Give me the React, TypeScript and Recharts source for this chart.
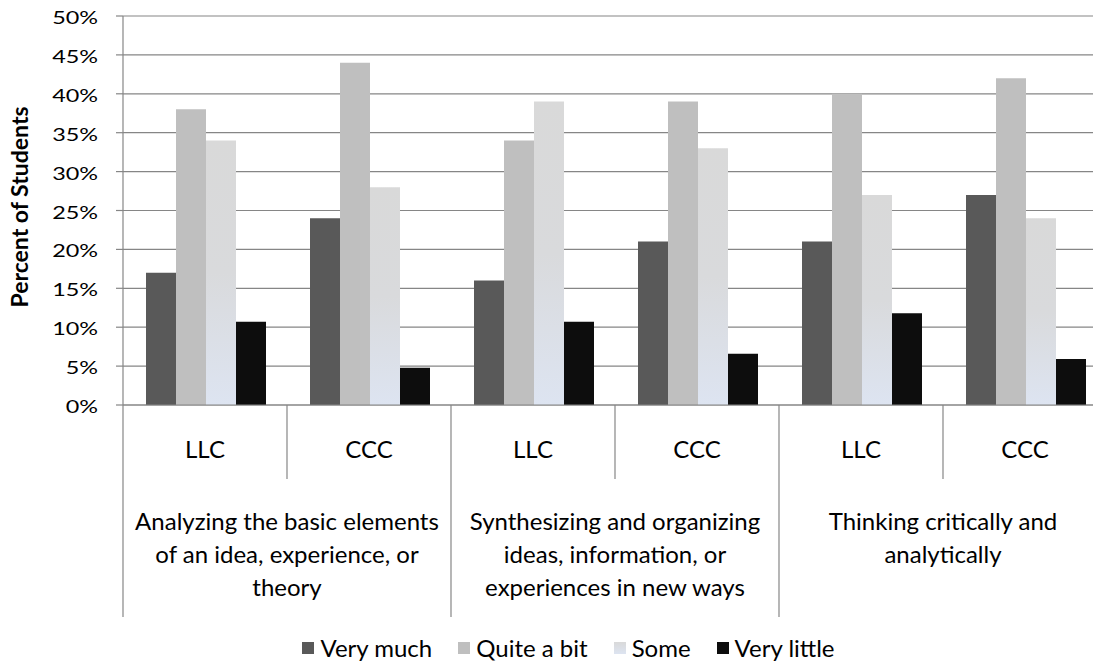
import React from 'react';
import { BarChart, Bar, XAxis, YAxis, CartesianGrid, Legend } from 'recharts';

// ---- data ----
const subLabels = ['LLC', 'CCC', 'LLC', 'CCC', 'LLC', 'CCC'];
const groupLabels = [
  ['Analyzing the basic elements', 'of an idea, experience, or', 'theory'],
  ['Synthesizing and organizing', 'ideas, information, or', 'experiences in new ways'],
  ['Thinking critically and', 'analytically'],
];
const veryMuch = [17, 24, 16, 21, 21, 27];
const quiteABit = [38, 44, 34, 39, 40, 42];
const some = [34, 28, 39, 33, 27, 24];
const veryLittle = [10.7, 4.8, 10.7, 6.6, 11.8, 5.9];
const yTicks = [0, 5, 10, 15, 20, 25, 30, 35, 40, 45, 50];
const seriesNames = ['Very much', 'Quite a bit', 'Some', 'Very little'];
const axisTitle = 'Percent of Students';

const data = subLabels.map((s, i) => ({
  id: String(i),
  sub: s,
  vm: veryMuch[i],
  qb: quiteABit[i],
  so: some[i],
  vl: veryLittle[i],
}));

// ---- layout (page coordinates; wrapper cancels the body margin) ----
const W = 1129;
const H = 665;
const PLOT_LEFT = 123;
const PLOT_TOP = 16;
const PLOT_BOTTOM = 405;
const PLOT_RIGHT = 1107;
const BAND = (PLOT_RIGHT - PLOT_LEFT) / subLabels.length;
const FONT = 'Lato, "Open Sans", sans-serif';
const AXIS = '#868686';

const colors = ['#595959', '#bfbfbf', 'url(#someGrad)', '#0d0d0d'];
const legendColors = ['#595959', '#bfbfbf', 'linear-gradient(#d9d9d9, #dde4f1)', '#0d0d0d'];

const YTick = (props: any) => {
  const { y, payload } = props;
  return (
    <text
      transform={`translate(98, ${y + 8}) scale(1.3, 1)`}
      textAnchor="end"
      fontSize={18}
      fontFamily={FONT}
      fill="#000"
    >
      {`${payload.value}%`}
    </text>
  );
};

const XTick = (props: any) => {
  const { x, payload } = props;
  const i = payload.index ?? props.index;
  const xl = x - BAND / 2;
  const pb = PLOT_BOTTOM;
  const els: any[] = [];
  els.push(
    <line key="l" x1={xl} x2={xl} y1={pb} y2={pb + (i % 2 === 0 ? 212 : 74)} stroke={AXIS} strokeWidth={1.2} />
  );
  if (i === subLabels.length - 1) {
    els.push(<line key="r" x1={x + BAND / 2} x2={x + BAND / 2} y1={pb} y2={pb + 212} stroke={AXIS} strokeWidth={1.2} />);
  }
  els.push(
    <text key="s" x={x} y={pb + 53} textAnchor="middle" fontSize={24} fontFamily={FONT} fill="#000">
      {subLabels[i]}
    </text>
  );
  if (i % 2 === 1) {
    const g = groupLabels[(i - 1) / 2];
    g.forEach((line, k) => {
      els.push(
        <text key={'g' + k} x={xl} y={pb + 125 + 33 * k} textAnchor="middle" fontSize={24} fontFamily={FONT} fill="#000">
          {line}
        </text>
      );
    });
  }
  return <g>{els}</g>;
};

const LegendContent = () => (
  <div
    style={{
      display: 'flex',
      justifyContent: 'center',
      alignItems: 'center',
      gap: 26,
      fontFamily: FONT,
      fontSize: 24,
      lineHeight: '24px',
      color: '#000',
      height: 0,
      overflow: 'visible',
    }}
  >
    {seriesNames.map((n, i) => (
      <div key={n} style={{ display: 'flex', alignItems: 'center', gap: 6, whiteSpace: 'nowrap' }}>
        <span style={{ display: 'inline-block', width: 12, height: 12, background: legendColors[i] }} />
        <span>{n}</span>
      </div>
    ))}
  </div>
);

const TitleLabel = () => (
  <text
    transform={`translate(28, 207) rotate(-90)`}
    textAnchor="middle"
    fontSize={23}
    fontWeight="bold"
    fontFamily={FONT}
    fill="#000"
  >
    {axisTitle}
  </text>
);

export default function App() {
  return (
    <div style={{ width: 1101, height: H, overflow: 'hidden', position: 'relative', margin: '-8px 0 0 -8px' }}>
      <BarChart
        width={W}
        height={H}
        data={data}
        margin={{ top: PLOT_TOP, right: W - PLOT_RIGHT, left: 0, bottom: 0 }}
        barCategoryGap={23}
        barGap={0}
      >
        <defs>
          <linearGradient id="someGrad" x1="0" y1="0" x2="0" y2="1">
            <stop offset="0%" stopColor="#d9d9d9" />
            <stop offset="50%" stopColor="#d9dadc" />
            <stop offset="100%" stopColor="#dde4f1" />
          </linearGradient>
        </defs>
        <CartesianGrid vertical={false} stroke={AXIS} strokeWidth={1.2} />
        <XAxis
          dataKey="id"
          interval={0}
          height={H - PLOT_BOTTOM}
          axisLine={{ stroke: AXIS, strokeWidth: 1.2 }}
          tickLine={false}
          tick={<XTick />}
        />
        <YAxis
          width={PLOT_LEFT}
          domain={[0, 50]}
          ticks={yTicks}
          interval={0}
          tickSize={7}
          axisLine={{ stroke: AXIS, strokeWidth: 1.2 }}
          tickLine={{ stroke: AXIS, strokeWidth: 1.2 }}
          tick={<YTick />}
          label={{ content: <TitleLabel /> } as any}
        />
        <Legend
          content={<LegendContent />}
          wrapperStyle={{ top: 648, left: 0, width: 1137, height: 0 }}
        />
        {['vm', 'qb', 'so', 'vl'].map((k, i) => (
          <Bar key={k} dataKey={k} name={seriesNames[i]} fill={colors[i]} isAnimationActive={false} />
        ))}
      </BarChart>
    </div>
  );
}
